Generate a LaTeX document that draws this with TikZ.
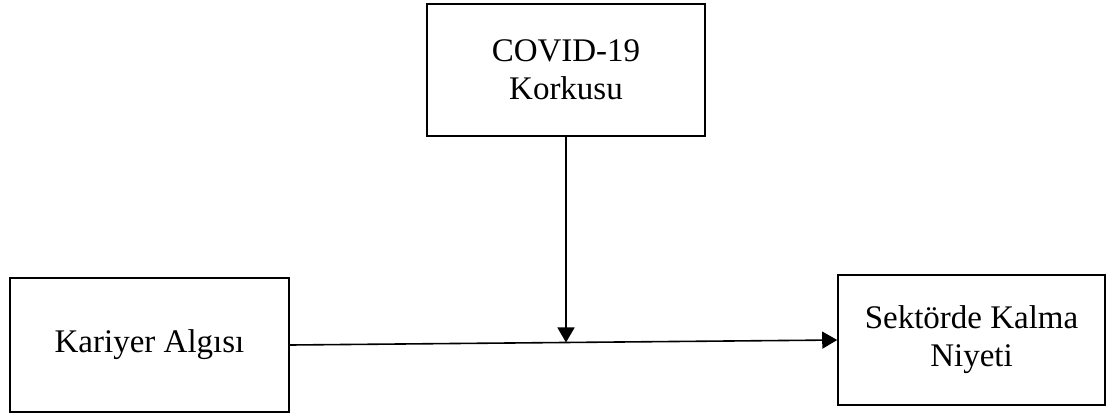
\documentclass[tikz,border=0pt]{standalone}
\usepackage{fontspec}
\setmainfont{Liberation Serif}
\usetikzlibrary{arrows.meta}

\begin{document}
\begin{tikzpicture}[x=1pt, y=-1pt,
	box/.style={draw, line width=1.6pt, align=center, inner sep=0pt,
		font=\fontsize{33}{36}\selectfont},
	arr/.style={line width=1.6pt, -{Triangle[length=15pt, width=17pt]}}]
	\useasboundingbox (0,0) rectangle (1107,416);

	\node [box, minimum width=278, minimum height=132] (covid) at (566,70) {COVID-19\\[2pt]Korkusu};
	\node [box, minimum width=279, minimum height=134] (kariyer) at (149.5,345) {Kariyer Algısı};
	\node [box, minimum width=267, minimum height=130] (niyet) at (971.5,340) {Sektörde Kalma\\[2pt]Niyeti};

	\draw [arr] (kariyer.east) -- (niyet.west) coordinate [pos=0.505] (mid);
	\draw [arr] (covid.south) -- (covid.south |- mid);
\end{tikzpicture}
\end{document}
